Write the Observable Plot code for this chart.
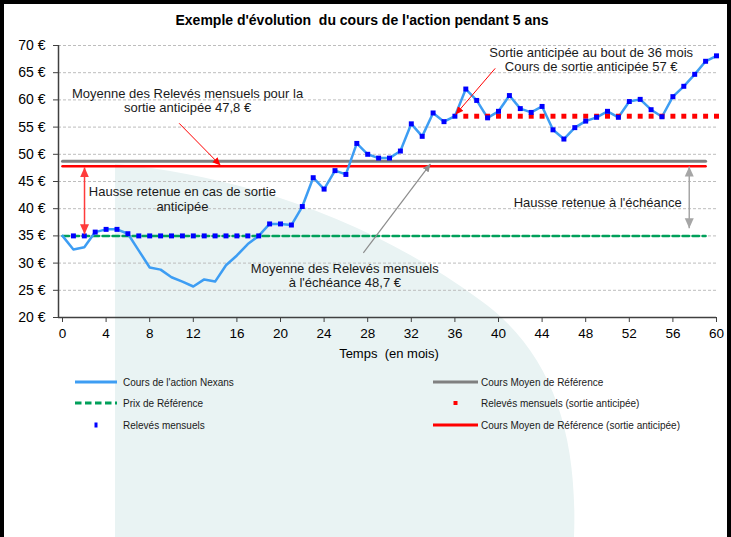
<!DOCTYPE html>
<html><head><meta charset="utf-8">
<script src="https://cdn.jsdelivr.net/npm/d3@7"></script>
<script src="https://cdn.jsdelivr.net/npm/@observablehq/plot@0.6"></script>
<style>
html,body{margin:0;padding:0;background:#fff;}
#frame{position:relative;width:731px;height:537px;overflow:hidden;background:#fff;font-family:"Liberation Sans",Arial,sans-serif;color:#000;}
#bg{position:absolute;left:0;top:0;}
#chart{position:absolute;left:0;top:0;}
#title{position:absolute;left:0;top:12px;width:724px;text-align:center;font-weight:bold;font-size:14px;}
#xlabel{position:absolute;left:0;top:346px;width:778px;text-align:center;font-size:13px;}
#legend{position:absolute;left:0;top:0;}
#border{position:absolute;left:0;top:0;width:731px;height:537px;box-sizing:border-box;border:4px solid #000;border-bottom:none;pointer-events:none;}
</style>
</head><body>
<div id="frame">
  <svg id="bg" width="731" height="537"><path d="M115,164 C250,176 380,226 480,300 C550,350 578,430 574,537 L115,537 Z" fill="#e9f3f3"/></svg>
  <div id="chart"></div>
  <div id="title">Exemple d'évolution&nbsp; du cours de l'action pendant 5 ans</div>
  <div id="xlabel">Temps&nbsp; (en mois)</div>
  <svg id="legend" width="731" height="537"></svg>
  <div id="border"></div>
</div>
<script>
// ---- data ----
const months = d3.range(0, 61);
const price = [35, 32.5, 32.9, 35.7, 36.2, 36.2, 35.4, 32.3, 29.2, 28.8, 27.4, 26.6, 25.7, 27.0, 26.6, 29.6, 31.4, 33.5, 35.0, 37.2,
  37.2, 37.0, 40.4, 45.7, 43.6, 47.0, 46.3, 52.0, 50.0, 49.3, 49.3, 50.6, 55.6, 53.3, 57.6, 56.0, 57.0, 62.0, 59.9, 56.7,
  57.9, 60.8, 58.4, 57.7, 58.8, 54.5, 52.8, 54.9, 56.1, 56.8, 57.9, 56.8, 59.7, 60.1, 58.2, 56.9, 60.6, 62.5, 64.7, 67.1, 68.1];
const releveMonths = d3.range(1, 61);
const releves = [35, 35, 35.7, 36.2, 36.2, 35.4, 35, 35, 35, 35, 35, 35, 35, 35, 35, 35, 35, 35, 37.2, 37.2,
  37.0, 40.4, 45.7, 43.6, 47.0, 46.3, 52.0, 50.0, 49.3, 49.3, 50.6, 55.6, 53.3, 57.6, 56.0, 57.0, 62.0, 59.9, 56.7, 57.9,
  60.8, 58.4, 57.7, 58.8, 54.5, 52.8, 54.9, 56.1, 56.8, 57.9, 56.8, 59.7, 60.1, 58.2, 56.9, 60.6, 62.5, 64.7, 67.1, 68.1];
const anticipeMonths = d3.range(37, 61);
const sortieValue = 57;
const prixReference = 35;
const coursMoyen = 48.7;
const coursMoyenAnticipe = 47.8;
const refSpan = [0, 59];
const xTicks = d3.range(0, 61, 4);
const yTicks = [20, 25, 30, 35, 40, 45, 50, 55, 60, 65, 70];
const gridValues = [25, 30, 35, 40, 45, 50, 55, 60, 65, 70];

const annotations = [
  {m: 11.47, v: 59.9, t: "Moyenne des Relevés mensuels pour la\nsortie anticipée 47,8 €"},
  {m: 11.0, v: 41.8, t: "Hausse retenue en cas de sortie\nanticipée"},
  {m: 48.5, v: 67.4, t: "Sortie anticipée au bout de 36 mois\nCours de sortie anticipée 57 €"},
  {m: 49.1, v: 41.2, t: "Hausse retenue à l'échéance"},
  {m: 25.9, v: 27.7, t: "Moyenne des Relevés mensuels\nà l'échéance 48,7 €"}
];
const arrows = [
  {x1: 10.7, y1: 55.7, x2: 14.5, y2: 47.95, c: "#ff0000", w: 1, start: false},
  {x1: 2.02, y1: 35.3, x2: 2.02, y2: 47.6, c: "#ff3b3b", w: 1.5, start: true},
  {x1: 27.6, y1: 31.9, x2: 33.76, y2: 48.25, c: "#8c8c8c", w: 1.2, start: false},
  {x1: 39.7, y1: 65.8, x2: 36.06, y2: 57.3, c: "#ff0000", w: 1, start: false},
  {x1: 57.5, y1: 36.4, x2: 57.5, y2: 47.75, c: "#a6a6a6", w: 1.5, start: true}
];

const legendItems = [
  {label: "Cours de l'action Nexans", kind: "line", color: "#3d9df3", col: 0, row: 0},
  {label: "Prix de Référence", kind: "dash", color: "#00a05a", col: 0, row: 1},
  {label: "Relevés mensuels", kind: "markV", color: "#0000ff", col: 0, row: 2},
  {label: "Cours Moyen de Référence", kind: "line", color: "#808080", col: 1, row: 0},
  {label: "Relevés mensuels (sortie anticipée)", kind: "mark", color: "#ff0000", col: 1, row: 1},
  {label: "Cours Moyen de Référence (sortie anticipée)", kind: "line", color: "#ff0000", col: 1, row: 2}
];

// ---- tables ----
const priceData = months.map((m, i) => ({m, v: price[i]}));
const releveData = releveMonths.map((m, i) => ({m, v: releves[i]}));
const anticipeData = anticipeMonths.map(m => ({m, v: sortieValue}));
const refLine = v => refSpan.map(m => ({m, v}));

const chart = Plot.plot({
  width: 731, height: 370,
  marginLeft: 58, marginRight: 15, marginTop: 45, marginBottom: 53,
  style: {background: "transparent", fontFamily: "Liberation Sans, Arial, sans-serif", fontSize: "13px", color: "#000", overflow: "visible"},
  x: {domain: [-0.367, 60]},
  y: {domain: [20, 70]},
  marks: [
    Plot.ruleY(gridValues, {stroke: "#bdbdbd", strokeDasharray: "3,2", strokeWidth: 1}),
    Plot.line(refLine(coursMoyen), {x: "m", y: "v", stroke: "#808080", strokeWidth: 3}),
    Plot.line(refLine(coursMoyenAnticipe), {x: "m", y: "v", stroke: "#ff0000", strokeWidth: 2.5}),
    Plot.line(refLine(prixReference), {x: "m", y: "v", stroke: "#00a05a", strokeWidth: 2.5, strokeDasharray: "6.5,3.5"}),
    Plot.line(priceData, {x: "m", y: "v", stroke: "#3d9df3", strokeWidth: 2.5}),
    Plot.dot(anticipeData, {x: "m", y: "v", symbol: "square", r: 2.8, fill: "#ff0000"}),
    Plot.dot(releveData, {x: "m", y: "v", symbol: "square", r: 2.8, fill: "#0000ff"}),
    Plot.link(arrows, {x1: "x1", y1: "y1", x2: "x2", y2: "y2", stroke: d => d.c, strokeWidth: d => d.w}),
    Plot.text(annotations, {x: "m", y: "v", text: "t", fontSize: 13, lineHeight: 1.1, fill: "#1a1a1a"}),
    Plot.ruleY([20], {stroke: "#404040", strokeWidth: 1.5}),
    Plot.ruleX([-0.367], {stroke: "#404040", strokeWidth: 1.5}),
    Plot.axisX({ticks: xTicks, tickSize: 5, tickPadding: 6, label: null, stroke: "#404040", fill: "#000", fontSize: 13.5}),
    Plot.axisY({ticks: yTicks, tickSize: 5, tickPadding: 8, tickFormat: d => `${d} €`, label: null, stroke: "#404040", fill: "#000", fontSize: 14})
  ]
});
document.getElementById("chart").appendChild(chart);

// arrowheads
const svgSel = d3.select(chart);
const defs = svgSel.append("defs");
function markerFor(color, size) {
  const id = "ah" + color.replace("#", "") + String(size).replace(".", "_");
  if (defs.select("#" + id).empty()) {
    defs.append("marker").attr("id", id).attr("viewBox", "0 -5 10 10").attr("refX", 10).attr("refY", 0)
      .attr("markerWidth", size).attr("markerHeight", size).attr("markerUnits", "userSpaceOnUse")
      .attr("orient", "auto-start-reverse")
      .append("path").attr("d", "M0,-4.5L10,0L0,4.5Z").attr("fill", color);
  }
  return `url(#${id})`;
}
svgSel.selectAll('g[aria-label="link"] path').each(function(_, i) {
  const a = arrows[i];
  const size = a.start ? 10 : 8;
  const mk = markerFor(a.c, size);
  d3.select(this).attr("marker-end", mk);
  if (a.start) d3.select(this).attr("marker-start", mk);
});

// legend
const lg = d3.select("#legend");
const rowY = [382, 403, 425];
const swX = [[75, 117], [433, 478]];
const txX = [123, 481];
legendItems.forEach(it => {
  const y = rowY[it.row], [a, b] = swX[it.col];
  if (it.kind === "line") lg.append("line").attr("x1", a).attr("x2", b).attr("y1", y).attr("y2", y).attr("stroke", it.color).attr("stroke-width", 3);
  else if (it.kind === "dash") lg.append("line").attr("x1", a).attr("x2", b).attr("y1", y).attr("y2", y).attr("stroke", it.color).attr("stroke-width", 3).attr("stroke-dasharray", "6.5,3.5");
  else if (it.kind === "markV") lg.append("rect").attr("x", (a + b) / 2 - 1.5).attr("y", y - 2.5).attr("width", 3).attr("height", 5).attr("fill", it.color);
  else lg.append("rect").attr("x", (a + b) / 2 - 2).attr("y", y - 2).attr("width", 4).attr("height", 4).attr("fill", it.color);
  lg.append("text").attr("x", txX[it.col]).attr("y", y).attr("dy", "0.35em").attr("font-size", 10)
    .attr("font-family", "Liberation Sans, Arial, sans-serif").attr("fill", "#1a1a1a").text(it.label);
});
</script>
</body></html>
